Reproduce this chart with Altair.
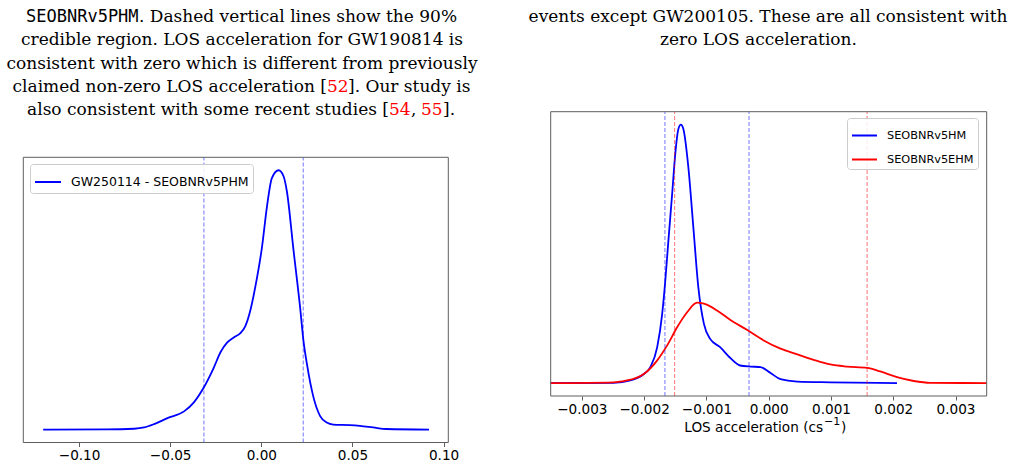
import altair as alt
import pandas as pd

# ---------------- data ----------------
# Left panel: GW250114 posterior (normalised density)
left_x = [-0.1197, -0.085, -0.0698, -0.0643, -0.0588, -0.0515, -0.0424, -0.0370, -0.0315,
          -0.0260, -0.0224, -0.0188, -0.0151, -0.0115, -0.0087, -0.0060, -0.0033, 0.0004,
          0.0031, 0.0058, 0.0095, 0.0122, 0.0140, 0.0177, 0.0213, 0.0231, 0.0250, 0.0286,
          0.0322, 0.0359, 0.0395, 0.0486, 0.0541, 0.0613, 0.0686, 0.092]
left_y = [0.0, 0.0005, 0.003, 0.008, 0.021, 0.044, 0.070, 0.105, 0.163,
          0.240, 0.298, 0.335, 0.355, 0.372, 0.400, 0.460, 0.550, 0.705,
          0.860, 0.970, 1.000, 0.977, 0.920, 0.690, 0.470, 0.344, 0.254, 0.125,
          0.053, 0.027, 0.019, 0.017, 0.014, 0.008, 0.002, 0.0]
left_ci = [-0.0315, 0.0230]
left_label = "GW250114 - SEOBNRv5PHM"
left_ticks = [-0.10, -0.05, 0.00, 0.05, 0.10]
left_xdom = [-0.1306, 0.1026]

# Right panel: SEOBNRv5HM and SEOBNRv5EHM posteriors (normalised density)
hm_x = [-0.0035, -0.00249, -0.00222, -0.00201, -0.00190, -0.00179, -0.00171, -0.00166,
        -0.00161, -0.00155, -0.00150, -0.00145, -0.00141, -0.00137, -0.00129, -0.00121,
        -0.00113, -0.00104, -0.00094, -0.00078, -0.00062, -0.00046, -0.00029, -0.00013,
        0.00003, 0.00019, 0.00046, 0.00099, 0.00206]
hm_y = [0.0, 0.001, 0.010, 0.034, 0.062, 0.139, 0.268, 0.397,
        0.552, 0.732, 0.887, 0.983, 1.000, 0.983, 0.835, 0.603,
        0.371, 0.229, 0.171, 0.139, 0.098, 0.068, 0.064, 0.062,
        0.039, 0.015, 0.006, 0.003, 0.0]
ehm_x = [-0.0035, -0.00249, -0.00222, -0.00201, -0.00179, -0.00163, -0.00147, -0.00131,
         -0.00115, -0.00104, -0.00083, -0.00062, -0.00035, -0.00008, 0.00019, 0.00046,
         0.00072, 0.00099, 0.00126, 0.00158, 0.00179, 0.00206, 0.00233, 0.00260, 0.0035]
ehm_y = [0.0, 0.003, 0.013, 0.034, 0.088, 0.146, 0.216, 0.274,
         0.311, 0.307, 0.281, 0.245, 0.206, 0.165, 0.133, 0.111,
         0.090, 0.072, 0.064, 0.059, 0.045, 0.023, 0.008, 0.001, 0.0]
hm_ci = [-0.001666, -0.000316]
ehm_ci = [-0.00151, 0.00158]
right_labels = ["SEOBNRv5HM", "SEOBNRv5EHM"]
right_ticks = [-0.003, -0.002, -0.001, 0.000, 0.001, 0.002, 0.003]
right_xdom = [-0.0035, 0.0035]

ydom = [-0.05, 1.05]
x_title_main = "LOS acceleration (cs"
x_title_sup = "\u22121"
x_title_end = ")"

# caption text
cap_a1 = "SEOBNRv5PHM"
cap_a2 = ". Dashed vertical lines show the 90%"
cap_b = "credible region. LOS acceleration for GW190814 is"
cap_c = "consistent with zero which is different from previously"
cap_d1 = "claimed non-zero LOS acceleration ["
cap_d2 = "52"
cap_d3 = "]. Our study is"
cap_e1 = "also consistent with some recent studies ["
cap_e2 = "54"
cap_e3 = ","
cap_e4 = "55"
cap_e5 = "]."
cap_r1 = "events except GW200105. These are all consistent with"
cap_r2 = "zero LOS acceleration."

# ---------------- styles ----------------
SANS = "DejaVu Sans"
SERIF = "DejaVu Serif"
MONO = "DejaVu Sans Mono"
FRAME = "#5e5e5e"


def text_piece(txt, x, y, align, color="black", font=SERIF, size=17):
    return alt.Chart(pd.DataFrame({"t": [txt]})).mark_text(
        align=align, baseline="alphabetic", font=font, fontSize=size, color=color
    ).encode(x=alt.value(x), y=alt.value(y), text="t:N")


def panel(series, colors, names, rules, xdom, xpx, ypx, ticks, fmt, offset, legend):
    xs = alt.Scale(domain=xdom, range=xpx, nice=False, zero=False)
    ys = alt.Scale(domain=ydom, range=ypx, nice=False, zero=False)
    xaxis = alt.Axis(orient="bottom", offset=offset, values=ticks, format=fmt, grid=False,
                     domain=False, ticks=True, tickColor=FRAME, tickSize=4, tickWidth=1,
                     labelFont=SANS, labelFontSize=13.6, labelColor="black", labelPadding=2,
                     labelFlush=False, labelOverlap=False,
                     labelExpr="replace(datum.label, '-', '\u2212')",
                     title=None)

    def X(f):
        return alt.X(f, type="quantitative", scale=xs, axis=xaxis)

    def Y(f):
        return alt.Y(f, type="quantitative", scale=ys, axis=None)

    layers = []
    for (sx, sy, nm) in series:
        df = pd.DataFrame({"a": sx, "d": sy, "name": nm})
        layers.append(
            alt.Chart(df).mark_line(strokeWidth=1.8, interpolate="monotone").encode(
                x=X("a"), y=Y("d"),
                color=alt.Color("name:N", scale=alt.Scale(domain=names, range=colors),
                                legend=legend)
            )
        )
    for (vals, col) in rules:
        rdf = pd.DataFrame({"a": vals, "lo": ydom[0], "hi": ydom[1]})
        layers.append(
            alt.Chart(rdf).mark_rule(color=col, opacity=0.55, strokeWidth=1,
                                     strokeDash=[4, 2]).encode(
                x=X("a"), y=Y("lo"), y2="hi:Q")
        )
    fdf = pd.DataFrame({"x0": [xdom[0]], "x1": [xdom[1]], "y0": [ydom[0]], "y1": [ydom[1]]})
    layers.append(
        alt.Chart(fdf).mark_rect(fill="white", fillOpacity=0, stroke=FRAME, strokeWidth=1).encode(
            x=X("x0"), x2="x1:Q", y=Y("y0"), y2="y1:Q")
    )
    return alt.layer(*layers)


def legend_at(x, y, size, fsize):
    return alt.Legend(orient="none", legendX=x, legendY=y, title=None, symbolType="stroke",
                      symbolSize=size, symbolStrokeWidth=2, labelFont=SANS, labelFontSize=fsize,
                      labelColor="black", labelOffset=9, labelLimit=400, padding=4, rowPadding=5,
                      strokeColor="#cccccc", fillColor="rgba(255,255,255,0.85)", cornerRadius=3,
                      symbolOpacity=1)


left = panel(
    [(left_x, left_y, left_label)], ["#0000ff"], [left_label],
    [(left_ci, "#0000ff")],
    left_xdom, [23.3, 448.3], [442.5, 157.3], left_ticks, ".2f", -22.5,
    legend_at(30, 164, 676, 12.5),
)

right = panel(
    [(hm_x, hm_y, right_labels[0]), (ehm_x, ehm_y, right_labels[1])],
    ["#0000ff", "#ff0000"], right_labels,
    [(hm_ci, "#0000ff"), (ehm_ci, "#ff0000")],
    right_xdom, [550.7, 986.7], [396.0, 111.7], right_ticks, ".3f", -69,
    legend_at(847, 118, 625, 11.3),
)

captions = [
    text_piece(cap_a1, 26, 22, "left", font=MONO),
    text_piece(cap_a2, 139, 22, "left"),
    text_piece(cap_b, 242, 45.3, "center"),
    text_piece(cap_c, 242, 68.6, "center"),
    text_piece(cap_d1, 327, 92, "right"),
    text_piece(cap_d2, 327, 92, "left", color="#ff0000"),
    text_piece(cap_d3, 348, 92, "left"),
    text_piece(cap_e1, 389, 115.3, "right"),
    text_piece(cap_e2, 389, 115.3, "left", color="#ff0000"),
    text_piece(cap_e3, 411, 115.3, "left"),
    text_piece(cap_e4, 421, 115.3, "left", color="#ff0000"),
    text_piece(cap_e5, 443, 115.3, "left"),
    text_piece(cap_r1, 768, 21.7, "center"),
    text_piece(cap_r2, 758.5, 45, "center"),
    # x-axis title of the right panel, with a mathtext-like superscript
    text_piece(x_title_main, 823, 432, "right", font=SANS, size=13.6),
    text_piece(x_title_sup, 824, 425, "left", font=SANS, size=11),
    text_piece(x_title_end, 841, 432, "left", font=SANS, size=13.6),
]

chart = alt.layer(*captions, left, right).resolve_scale(
    x="independent", y="independent", color="independent"
).properties(
    width=1015, height=465, padding=0,
    autosize=alt.AutoSizeParams(type="none"),
    background="white",
).configure_view(stroke=None)

chart.save("out.html", embed_options={"renderer": "svg", "actions": False})
